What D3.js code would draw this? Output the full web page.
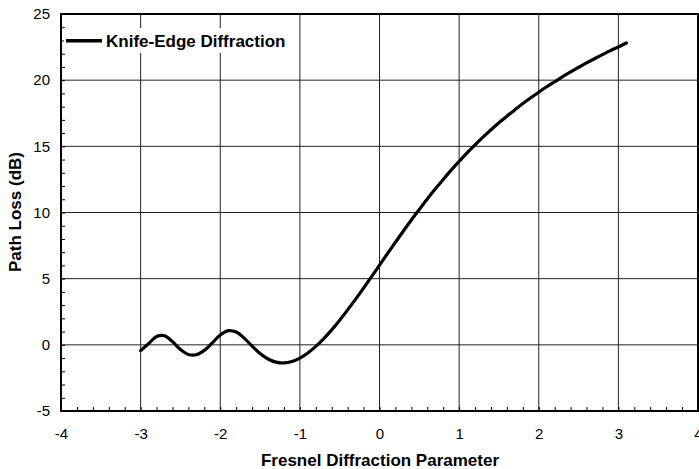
<!DOCTYPE html>
<html>
<head>
<meta charset="utf-8">
<script src="https://cdn.jsdelivr.net/npm/d3@7"></script>
<style>
  html, body { margin: 0; padding: 0; background: #fff; }
  svg { display: block; }
  text { font-family: "Liberation Sans", Arial, Helvetica, sans-serif; fill: #000; }
</style>
</head>
<body>
<svg id="chart" width="699" height="469"></svg>
<script>
// Fresnel diffraction parameter (v) and path loss (dB)
const vValues = [-3.0,-2.9,-2.8,-2.7,-2.6,-2.5,-2.4,-2.3,-2.2,-2.1,-2.0,-1.9,-1.8,-1.7,-1.6,-1.5,-1.4,-1.3,-1.2,-1.1,-1.0,-0.9,-0.8,-0.7,-0.6,-0.5,-0.4,-0.3,-0.2,-0.1,0.0,0.1,0.2,0.3,0.4,0.5,0.6,0.7,0.8,0.9,1.0,1.1,1.2,1.3,1.4,1.5,1.6,1.7,1.8,1.9,2.0,2.1,2.2,2.3,2.4,2.5,2.6,2.7,2.8,2.9,3.0,3.1];
const lossValues = [-0.44,0.09,0.63,0.69,0.24,-0.35,-0.73,-0.75,-0.42,0.15,0.74,1.07,0.97,0.51,-0.10,-0.66,-1.07,-1.31,-1.37,-1.26,-1.00,-0.62,-0.12,0.47,1.13,1.86,2.64,3.45,4.29,5.15,6.02,6.89,7.75,8.60,9.43,10.23,11.02,11.77,12.50,13.20,13.86,14.50,15.11,15.69,16.25,16.78,17.28,17.76,18.23,18.67,19.09,19.50,19.88,20.26,20.62,20.96,21.30,21.62,21.93,22.23,22.51,22.81];
const xTicks = [-4,-3,-2,-1,0,1,2,3,4];
const yTicks = [-5,0,5,10,15,20,25];
const seriesName = "Knife-Edge Diffraction";
const xTitle = "Fresnel Diffraction Parameter";
const yTitle = "Path Loss (dB)";

const svg = d3.select("#chart");
const L = 61, R = 698, T = 14, B = 411;

const x = d3.scaleLinear().domain([-4, 4]).range([L, R]);
const y = d3.scaleLinear().domain([-5, 25]).range([B, T]);
const fmt = d => String(d);

// grid lines
const grid = svg.append("g");
grid.selectAll("line.vx").data(xTicks.slice(1, -1)).enter().append("line")
  .attr("x1", d => x(d)).attr("x2", d => x(d)).attr("y1", T).attr("y2", B)
  .attr("stroke", "#222").attr("stroke-width", 1);
grid.selectAll("line.hy").data(yTicks.slice(1, -1)).enter().append("line")
  .attr("x1", L).attr("x2", R).attr("y1", d => y(d)).attr("y2", d => y(d))
  .attr("stroke", "#222").attr("stroke-width", 1);

// minor ticks (inside)
const xMinor = d3.range(-4, 4.0001, 0.2);
const yMinor = d3.range(-5, 25.0001, 1);
svg.append("g").attr("transform", `translate(0,${B})`)
  .call(d3.axisBottom(x).tickValues(xMinor).tickSize(-4).tickFormat(""))
  .call(g => g.select(".domain").remove())
  .selectAll("line").attr("stroke", "#000");
svg.append("g").attr("transform", `translate(${L},0)`)
  .call(d3.axisLeft(y).tickValues(yMinor).tickSize(-4).tickFormat(""))
  .call(g => g.select(".domain").remove())
  .selectAll("line").attr("stroke", "#000");

// frame
svg.append("rect").attr("x", L).attr("y", T).attr("width", R - L).attr("height", B - T)
  .attr("fill", "none").attr("stroke", "#000").attr("stroke-width", 2);

// tick labels
svg.append("g").attr("transform", `translate(0,${B})`)
  .call(d3.axisBottom(x).tickValues(xTicks).tickSize(0).tickPadding(17).tickFormat(fmt))
  .call(g => g.select(".domain").remove())
  .selectAll("text").style("font-size", "15px").attr("font-family", "Liberation Sans, Arial, sans-serif").attr("fill", "#000");
svg.append("g").attr("transform", `translate(${L},0)`)
  .call(d3.axisLeft(y).tickValues(yTicks).tickSize(0).tickPadding(11).tickFormat(fmt))
  .call(g => g.select(".domain").remove())
  .selectAll("text").style("font-size", "15px").attr("font-family", "Liberation Sans, Arial, sans-serif").attr("fill", "#000");

// data line
const data = vValues.map((v, i) => ({ v, loss: lossValues[i] }));
svg.append("path").datum(data)
  .attr("fill", "none").attr("stroke", "#000").attr("stroke-width", 3.2)
  .attr("stroke-linejoin", "round").attr("stroke-linecap", "round")
  .attr("d", d3.line().x(d => x(d.v)).y(d => y(d.loss)).curve(d3.curveCatmullRom));

// legend
const lg = svg.append("g");
lg.append("rect").attr("x", 64).attr("y", 28).attr("width", 228).attr("height", 25).attr("fill", "#fff");
lg.append("line").attr("x1", 66).attr("x2", 102).attr("y1", 40.7).attr("y2", 40.7)
  .attr("stroke", "#000").attr("stroke-width", 3.5);
lg.append("text").attr("x", 106).attr("y", 46.7)
  .style("font-size", "17px").style("font-weight", "bold").text(seriesName);

// axis titles
svg.append("text").attr("x", 380).attr("y", 465.5).attr("text-anchor", "middle")
  .style("font-size", "17px").style("font-weight", "bold").text(xTitle);
svg.append("text").attr("transform", "translate(20.5,212) rotate(-90)").attr("text-anchor", "middle")
  .style("font-size", "17px").style("font-weight", "bold").text(yTitle);
</script>
</body>
</html>
